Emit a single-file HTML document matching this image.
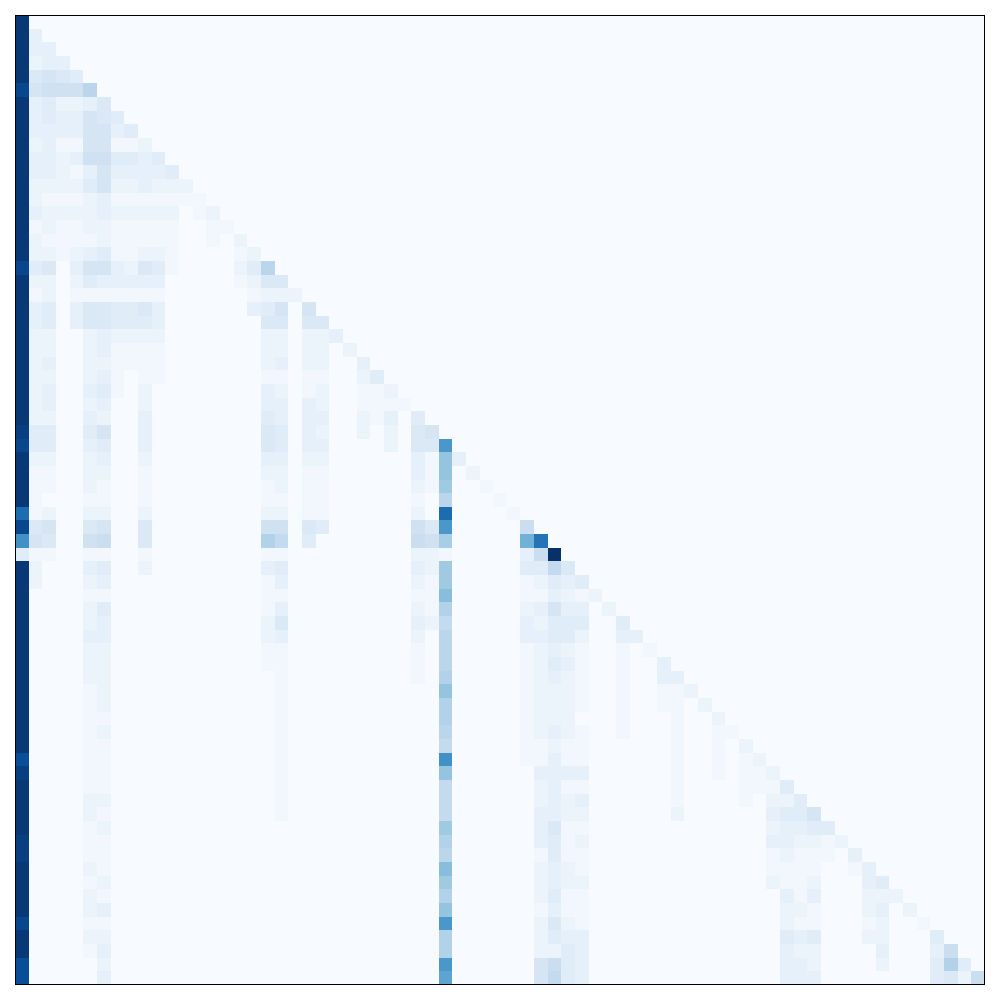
<!DOCTYPE html>
<html><head><meta charset="utf-8"><style>
html,body{margin:0;padding:0;background:#fff;}
svg{display:block;}
</style></head><body>
<svg id="chart" width="1000" height="1000">
<g id="cells"></g>
<rect x="15.5" y="15.5" width="969" height="969" fill="none" stroke="#000" stroke-width="1"/>
</svg>
<script>
// Heatmap data: each row lists "column:value" (value base-36 digit, 0..z => 0..1)
const nCells = 71;
const rowData = [
"0:y","0:y 1:3","0:y 1:3 2:3","0:y 1:2 2:3 3:3","0:y 1:5 2:6 3:5 4:4",
"0:w 1:6 2:7 3:7 4:7 5:a","0:y 1:3 2:4 3:2 4:2 5:3 6:5","0:y 1:3 2:4 3:3 4:3 5:6 6:5 7:4",
"0:y 1:3 2:3 3:3 4:3 5:6 6:6 7:3 8:4","0:y 1:2 2:3 3:1 4:1 5:6 6:6 7:1 8:1 9:2",
"0:y 1:3 2:3 3:2 4:3 5:7 6:7 7:4 8:4 9:3 10:4","0:y 1:3 2:3 3:2 4:1 5:3 6:6 7:3 8:3 9:3 10:3 11:4",
"0:y 1:2 2:2 3:2 4:2 5:4 6:6 7:2 8:2 9:3 10:2 11:2 12:2","0:y 1:2 2:1 3:1 4:1 5:2 6:3 7:1 8:1 9:1 10:1 11:1 12:1 13:1",
"0:y 1:3 2:2 3:2 4:2 5:2 6:3 7:2 8:2 9:2 10:2 11:2 13:1 14:2","0:y 1:1 2:2 3:1 4:1 5:2 6:2 7:1 8:1 9:1 10:1 11:1 14:1 15:1",
"0:y 1:2 2:1 3:1 4:1 5:1 6:2 7:1 8:1 9:1 10:1 11:1 14:1 16:2","0:y 1:2 2:2 3:1 4:2 5:3 6:4 7:1 8:1 9:2 10:2 11:1 16:1 17:2",
"0:w 1:4 2:5 4:3 5:6 6:6 7:3 8:2 9:5 10:4 11:1 16:2 17:4 18:a","0:y 1:2 2:2 4:2 5:4 6:3 7:3 8:3 9:3 10:3 16:1 17:2 18:5 19:5",
"0:y 1:1 2:2 4:1 5:1 6:1 7:1 8:1 9:1 10:1 17:1 18:2 19:2 20:2","0:y 1:3 2:4 4:3 5:5 6:5 7:4 8:4 9:5 10:3 17:3 18:4 19:6 21:6",
"0:y 1:3 2:4 4:3 5:5 6:5 7:4 8:4 9:4 10:3 18:5 19:5 21:5 22:5","0:y 1:2 2:2 5:2 6:3 7:2 8:2 9:2 10:2 18:2 19:2 21:2 22:2 23:3",
"0:y 1:2 2:2 5:2 6:3 7:1 8:1 9:1 10:1 18:2 19:2 21:2 22:2 24:2","0:y 1:2 2:3 5:2 6:2 7:1 8:1 9:1 10:1 18:2 19:3 21:2 22:2 25:3",
"0:y 1:2 2:2 5:2 6:3 7:1 9:1 10:1 18:1 19:1 21:1 22:1 25:2 26:4","0:y 1:2 2:3 5:3 6:4 7:1 9:2 18:3 19:2 21:1 22:2 25:1 26:1 27:2",
"0:y 1:2 2:3 5:2 6:3 9:2 18:3 19:3 21:3 22:2 25:1 26:1 27:1 28:1","0:y 1:2 2:2 5:3 6:2 9:3 18:4 19:3 21:3 22:3 25:2 26:1 27:3 29:4",
"0:x 1:4 2:4 5:4 6:6 9:3 18:5 19:4 21:3 22:2 25:2 27:2 29:5 30:6","0:w 1:4 2:4 5:3 6:4 9:3 18:5 19:4 21:3 22:3 27:2 29:5 30:5 31:l",
"0:y 1:2 2:2 5:2 6:3 9:2 18:3 19:3 21:2 22:2 29:3 30:1 31:e 32:3","0:y 1:1 2:1 5:2 6:2 9:1 18:2 19:2 21:1 22:1 29:3 30:1 31:e 33:2",
"0:y 1:1 2:1 5:2 6:1 9:1 18:1 19:2 21:1 22:1 29:2 30:1 31:d 34:1","0:y 1:1 5:1 6:1 9:1 18:1 19:1 21:1 22:1 29:1 31:a 35:1",
"0:r 1:1 2:2 5:2 6:2 9:2 18:2 19:2 21:1 22:1 29:2 31:r 36:1","0:w 1:5 2:6 5:5 6:6 9:5 18:7 19:7 21:5 22:4 29:7 30:5 31:l 37:8",
"0:m 1:6 2:5 5:7 6:8 9:5 18:b 19:9 21:4 29:8 30:7 31:c 37:h 38:q","0:4 1:1 2:1 5:1 6:1 9:1 18:1 19:1 29:2 30:2 31:1 37:3 38:8 39:z",
"0:y 1:2 5:3 6:4 9:2 18:3 19:4 29:3 30:2 31:d 37:4 38:4 39:9 40:5","0:y 1:2 5:2 6:3 18:1 19:3 29:2 30:1 31:d 37:1 38:2 39:4 40:3 41:4",
"0:y 5:1 6:1 18:1 19:1 29:1 30:1 31:f 37:1 38:1 39:3 40:2 41:1 42:2","0:y 5:2 6:4 18:1 19:3 29:2 30:1 31:b 37:2 38:3 39:6 40:3 41:3 43:2",
"0:y 5:2 6:3 18:2 19:5 29:3 30:2 31:9 37:3 38:2 39:4 40:4 41:4 44:4","0:y 5:3 6:3 18:2 19:3 29:2 31:a 37:3 38:3 39:4 40:4 41:2 44:3 45:3",
"0:y 5:2 6:2 18:1 19:1 29:1 31:a 37:1 38:2 39:3 40:2 41:1 44:1 46:1","0:y 5:2 6:2 18:1 19:1 29:1 31:a 37:1 38:2 39:4 40:3 41:1 44:1 47:3",
"0:y 5:2 6:2 19:1 29:1 31:b 37:1 38:2 39:3 40:2 41:1 44:1 47:3 48:3","0:y 5:1 6:2 19:1 31:e 37:1 38:2 39:2 40:2 41:1 44:1 47:1 48:1 49:2",
"0:y 5:1 6:2 19:1 31:b 37:1 38:2 39:2 40:2 41:1 44:1 47:1 48:1 50:2","0:y 5:1 6:1 19:1 31:b 37:1 38:2 39:2 40:2 44:1 48:1 51:2",
"0:y 5:1 6:2 19:1 31:a 37:1 38:2 39:3 40:2 41:1 44:1 48:1 51:1 52:1","0:y 5:1 6:1 19:1 31:9 37:1 38:1 39:2 40:1 41:1 48:1 51:1 53:2",
"0:v 5:1 6:1 19:1 31:m 37:1 38:1 39:3 40:1 41:1 48:1 51:1 53:1 54:2","0:x 5:1 6:1 19:1 31:e 38:3 39:3 40:3 41:3 48:1 51:1 53:1 54:1 55:2",
"0:y 5:1 6:1 19:1 31:9 38:2 39:3 40:1 41:1 48:1 53:1 54:1 55:1 56:4","0:y 5:2 6:2 19:1 31:9 38:2 39:3 40:2 41:3 48:1 53:1 55:2 56:2 57:4",
"0:y 5:2 6:1 19:1 31:9 38:3 39:3 40:2 41:2 48:2 55:3 56:4 57:4 58:6","0:y 5:1 6:2 31:d 38:3 39:5 40:1 41:1 55:2 56:3 57:3 58:4 59:4",
"0:x 5:1 6:1 31:b 38:3 39:4 40:1 41:2 55:3 56:3 57:2 58:2 59:1 60:2","0:x 5:1 6:1 31:a 38:1 39:4 40:1 41:1 55:1 56:2 57:1 58:1 59:1 61:3",
"0:y 5:2 6:1 31:f 38:2 39:3 40:2 41:1 55:1 56:1 57:1 58:1 61:1 62:3","0:y 5:1 6:2 31:d 38:2 39:3 40:2 41:2 55:2 56:1 57:1 58:2 62:3 63:4",
"0:y 5:2 6:1 31:b 38:2 39:4 40:1 41:1 56:3 57:1 58:3 62:2 63:2 64:2","0:y 5:2 6:3 31:e 38:1 39:3 40:1 41:1 56:2 57:2 58:1 62:2 63:3 65:2",
"0:w 5:1 6:1 31:l 38:2 39:5 40:2 41:1 56:2 57:1 58:1 62:1 63:2 66:1","0:y 5:2 6:2 31:b 38:2 39:4 40:3 41:3 56:4 57:3 58:4 62:2 63:2 67:4",
"0:y 5:1 6:3 31:b 38:2 39:2 40:4 41:3 56:3 57:2 58:2 63:3 67:3 68:8","0:v 6:2 31:l 38:6 39:8 40:4 41:3 56:3 57:3 58:2 63:2 67:4 68:b 69:4",
"0:v 6:3 31:j 38:6 39:9 40:4 41:3 56:3 57:3 58:3 67:4 68:5 69:2 70:8"
];
const blues = ["#f7fbff","#deebf7","#c6dbef","#9ecae1","#6baed6","#4292c6","#2171b5","#08519c","#08306b"];

const x0 = 15, size = 970, cell = size / nCells;
function pos(i){ return x0 + i * cell; }
function hex(c){ return [1,3,5].map(k=>parseInt(c.substr(k,2),16)); }
function color(v){
  v = Math.max(0, Math.min(1, v));
  const t = v * (blues.length - 1), i = Math.min(Math.floor(t), blues.length - 2), f = t - i;
  const a = hex(blues[i]), b = hex(blues[i+1]);
  return "rgb(" + a.map((q,k)=>Math.round(q + (b[k]-q)*f)).join(",") + ")";
}
const ns = "http://www.w3.org/2000/svg";
const g = document.getElementById("cells");
const bg = document.createElementNS(ns, "rect");
bg.setAttribute("x", x0); bg.setAttribute("y", x0);
bg.setAttribute("width", size); bg.setAttribute("height", size);
bg.setAttribute("fill", blues[0]);


g.appendChild(bg);
rowData.forEach((row, r) => {
  row.split(" ").forEach(tok => {
    const [c, ch] = tok.split(":");
    const v = parseInt(ch, 36) / 35;
    if (v <= 0) return;
    const col = +c;
    const rect = document.createElementNS(ns, "rect");
    const xa = Math.round(pos(col)), xb = Math.round(pos(col + 1));
    const ya = Math.round(pos(r)), yb = Math.round(pos(r + 1));
    rect.setAttribute("x", xa); rect.setAttribute("y", ya);
    rect.setAttribute("width", xb - xa); rect.setAttribute("height", yb - ya);
    rect.setAttribute("fill", color(v));
    
    
    g.appendChild(rect);
  });
});
</script>
</body></html>
